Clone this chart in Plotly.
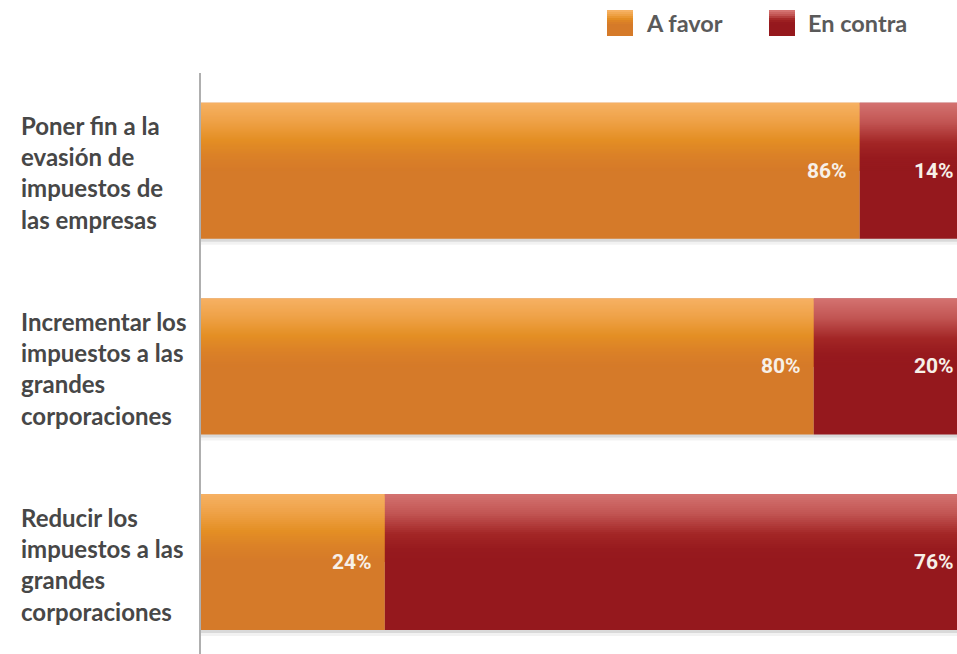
import plotly.graph_objects as go

# ---- data ----
categories = [
    "Poner fin a la<br>evasión de<br>impuestos de<br>las empresas",
    "Incrementar los<br>impuestos a las<br>grandes<br>corporaciones",
    "Reducir los<br>impuestos a las<br>grandes<br>corporaciones",
]
series_names = ["A favor", "En contra"]
a_favor = [86, 80, 24]
en_contra = [14, 20, 76]

# ---- layout geometry ----
W, H = 957, 654
ML, MT = 201, 73
plot_w = W - ML
plot_h = H - MT
x_max = 98.7
y_range = [-0.47, 2.5]
ppu = plot_h / (y_range[1] - y_range[0])  # pixels per y unit
px_per_pct = plot_w / x_max
bar_px = 136
bar_w = bar_px / ppu
ypos = [2, 1, 0]

orange_stops = [(0, (246, 177, 99)), (18, (239, 162, 72)), (37, (228, 143, 36)),
                (52, (219, 129, 39)), (68, (213, 122, 41))]
red_stops = [(0, (212, 115, 113)), (20, (193, 84, 82)), (40, (163, 38, 38)),
             (55, (151, 26, 30)), (68, (149, 24, 29))]
orange_main = "rgb(213,122,41)"
red_main = "rgb(149,24,29)"
grad_px = 68


def interp(stops, p):
    for (p0, c0), (p1, c1) in zip(stops[:-1], stops[1:]):
        if p0 <= p <= p1:
            t = (p - p0) / (p1 - p0)
            return "rgb(%d,%d,%d)" % tuple(round(a + (b - a) * t) for a, b in zip(c0, c1))
    return "rgb(%d,%d,%d)" % stops[-1][1]


fig = go.Figure()

totals = [a + b for a, b in zip(a_favor, en_contra)]
# soft shadow under bars
for shift, alpha in [(6, 0.05), (3, 0.10)]:
    fig.add_trace(go.Bar(
        y=ypos, x=totals, base=[0] * 3, orientation="h",
        width=bar_w, offset=-bar_w / 2 - shift / ppu,
        marker=dict(color="rgba(0,0,0,%s)" % alpha, line_width=0),
        showlegend=False, hoverinfo="skip"))

fig.add_trace(go.Bar(
    y=ypos, x=a_favor, base=[0] * 3, orientation="h", name=series_names[0],
    width=bar_w, marker=dict(color=orange_main, line_width=0),
    showlegend=False))
fig.add_trace(go.Bar(
    y=ypos, x=en_contra, base=a_favor, orientation="h", name=series_names[1],
    width=bar_w, marker=dict(color=red_main, line_width=0),
    showlegend=False))

# gradient at top of bars: nested layers, each from depth k down to grad_px
step = 2
for k in range(0, grad_px, step):
    off = bar_w / 2 - grad_px / ppu
    wdt = (grad_px - k) / ppu
    fig.add_trace(go.Bar(
        y=ypos, x=a_favor, base=[0] * 3, orientation="h",
        width=wdt, offset=off,
        marker=dict(color=interp(orange_stops, k + step / 2), line_width=0),
        showlegend=False, hoverinfo="skip"))
    fig.add_trace(go.Bar(
        y=ypos, x=en_contra, base=a_favor, orientation="h",
        width=wdt, offset=off,
        marker=dict(color=interp(red_stops, k + step / 2), line_width=0),
        showlegend=False, hoverinfo="skip"))

# value labels, right-aligned 12px inside the end of each segment
pad_pct = 12 / px_per_pct
label_font = dict(family="Roboto", size=21, color="#F7F0E8", weight="bold")
for vals, bases in [(a_favor, [0] * 3), (en_contra, a_favor)]:
    for v, b, yv in zip(vals, bases, ypos):
        end = b + v
        fig.add_annotation(
            text=f"{v}%", x=end, y=yv, xref="x", yref="y",
            ax=end - pad_pct, ay=yv, axref="x", ayref="y",
            showarrow=True, arrowcolor="rgba(0,0,0,0)", arrowwidth=0.1,
            xanchor="right", yanchor="middle", font=label_font,
            borderpad=0)

# category labels (left aligned)
for lab, yv in zip(categories, ypos):
    fig.add_annotation(
        text=lab, xref="paper", x=0, xshift=-(ML - 19), xanchor="left",
        yref="y", y=yv, yshift=-2, yanchor="middle", align="left", showarrow=False,
        font=dict(family="Lato", size=24, color="#474747", weight="bold"))

# manual legend
def px2paper(px, py):
    return (px - ML) / plot_w, 1 + (MT - py) / plot_h

legend_items = [(607, series_names[0], orange_stops, orange_main),
                (769, series_names[1], red_stops, red_main)]
for sx, name, stops, main in legend_items:
    x0, y0 = px2paper(sx, 36)
    x1, y1 = px2paper(sx + 26, 10)
    fig.add_shape(type="rect", xref="paper", yref="paper", x0=x0, x1=x1, y0=y0, y1=y1,
                  fillcolor=main, line_width=0)
    for k in range(0, 14, 2):
        _, ya = px2paper(0, 10 + k)
        _, yb = px2paper(0, 24)
        fig.add_shape(type="rect", xref="paper", yref="paper", x0=x0, x1=x1, y0=yb, y1=ya,
                      fillcolor=interp(stops, k * grad_px / 14), line_width=0)
    tx, ty = px2paper(sx + 37, 23)
    fig.add_annotation(text=name, xref="paper", yref="paper", x=tx, y=ty,
                       xanchor="left", yanchor="middle", showarrow=False,
                       font=dict(family="Lato", size=23.5, color="#5A5A5A", weight="bold"))

fig.update_layout(
    width=W, height=H, barmode="overlay",
    margin=dict(l=ML, r=0, t=MT, b=0),
    paper_bgcolor="white", plot_bgcolor="white",
    showlegend=False,
    xaxis=dict(range=[0, x_max], showgrid=False, zeroline=False,
               showticklabels=False, ticks="", fixedrange=True),
    yaxis=dict(range=y_range, showgrid=False, zeroline=False, showticklabels=False,
               ticks="", showline=True, linecolor="#AFAFAF", linewidth=2,
               fixedrange=True),
)

fig.write_html("out.html", config={"displayModeBar": False},
               post_script="document.body.style.margin='0';document.body.style.overflow='hidden';")
